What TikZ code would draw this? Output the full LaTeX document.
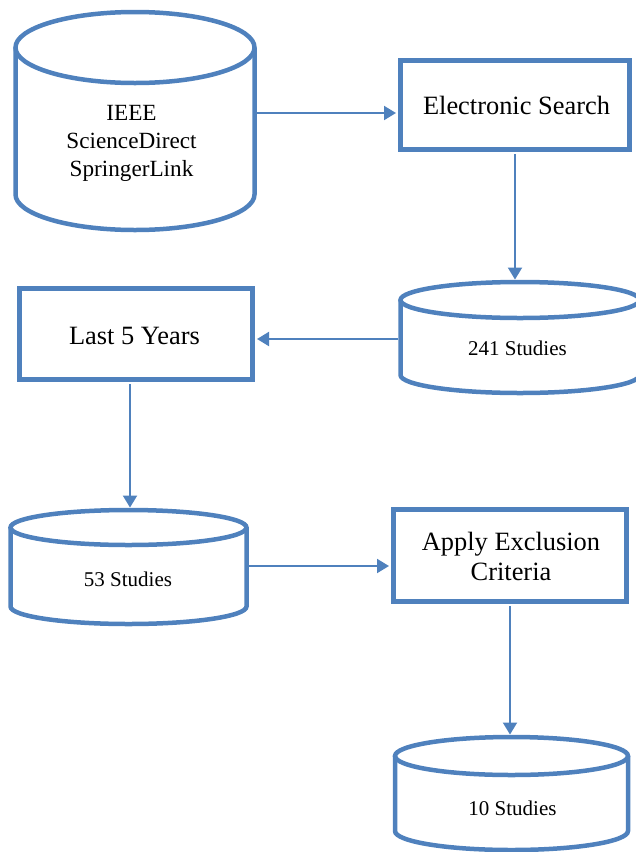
\documentclass[tikz,border=0pt]{standalone}
\usepackage{fontspec}
\setmainfont{Liberation Serif}
\usetikzlibrary{arrows.meta,fit}
\definecolor{flowblue}{RGB}{79,129,189}
\tikzset{
  cylline/.style={draw=flowblue, line width=4.5pt},
  procbox/.style={draw=flowblue, line width=4.5pt, inner sep=0pt},
  arr/.style={draw=flowblue, line width=2pt, -{Triangle[length=12pt,width=14pt]}, shorten <=2.25pt, shorten >=2.25pt},
  bigtxt/.style={font=\fontsize{26.4}{30}\selectfont, align=center, inner sep=0pt},
  midtxt/.style={font=\fontsize{23.2}{28}\selectfont, align=center, inner sep=0pt},
  smalltxt/.style={font=\fontsize{21}{25}\selectfont, inner sep=0pt},
}
% #1 name, #2 cx, #3 top centre y, #4 bottom centre y, #5 rx, #6 ry
\newcommand\dbcyl[6]{%
  \draw[cylline] ({#2-#5},{-#3}) -- ({#2-#5},{-#4}) arc[start angle=180,end angle=360,x radius=#5,y radius=#6] -- ({#2+#5},{-#3});
  \draw[cylline] (#2,-#3) ellipse[x radius=#5,y radius=#6];
  \path ({#2-#5},{-#3+#6}) coordinate (#1-nw) ({#2+#5},{-#4-#6}) coordinate (#1-se);
  \node[fit=(#1-nw)(#1-se), inner sep=0pt] (#1) {};
}
\begin{document}
\begin{tikzpicture}[x=1pt,y=1pt]
\useasboundingbox (0,0) rectangle (635,-852);

% cylinders
\dbcyl{c1}{135}{47.5}{194.5}{119.5}{35.5}
\dbcyl{c241}{520}{300}{375}{119.5}{18}
\dbcyl{c53}{128.5}{527.5}{606.5}{118}{17.5}
\dbcyl{c10}{511.5}{756}{831}{116.5}{19}

% process boxes
\node[procbox, minimum width=229pt, minimum height=89pt] (es) at (515,-105) {};
\node[procbox, minimum width=233pt, minimum height=91pt] (l5) at (136,-334) {};
\node[procbox, minimum width=233pt, minimum height=92pt] (ap) at (510,-555.5) {};

% texts
\node[midtxt] (c1t) at (131.5,-143) {IEEE\\ScienceDirect\\SpringerLink};
\node[bigtxt, anchor=base] (est) at (516.5,-114) {Electronic Search};
\node[bigtxt, anchor=base] (l5t) at (134.5,-344) {Last 5 Years};
\node[bigtxt] (apt) at (511,-556) {Apply Exclusion\\Criteria};
\node[smalltxt, anchor=base] (c241t) at (517.5,-355) {241 Studies};
\node[smalltxt, anchor=base] (c53t) at (128,-586) {53 Studies};
\node[smalltxt, anchor=base] (c10t) at (512.5,-815) {10 Studies};

% connector levels
\coordinate (y1) at (0,-113);
\coordinate (x2) at (515,0);
\coordinate (y3) at (0,-339);
\coordinate (x4) at (130,0);
\coordinate (y5) at (0,-566);
\coordinate (x6) at (510,0);

\draw[arr] (c1.east |- y1) -- (es.west |- y1);
\draw[arr] (es.south -| x2) -- (c241.north -| x2);
\draw[arr] (c241.west |- y3) -- (l5.east |- y3);
\draw[arr] (l5.south -| x4) -- (c53.north -| x4);
\draw[arr] (c53.east |- y5) -- (ap.west |- y5);
\draw[arr] (ap.south -| x6) -- (c10.north -| x6);
\end{tikzpicture}
\end{document}
